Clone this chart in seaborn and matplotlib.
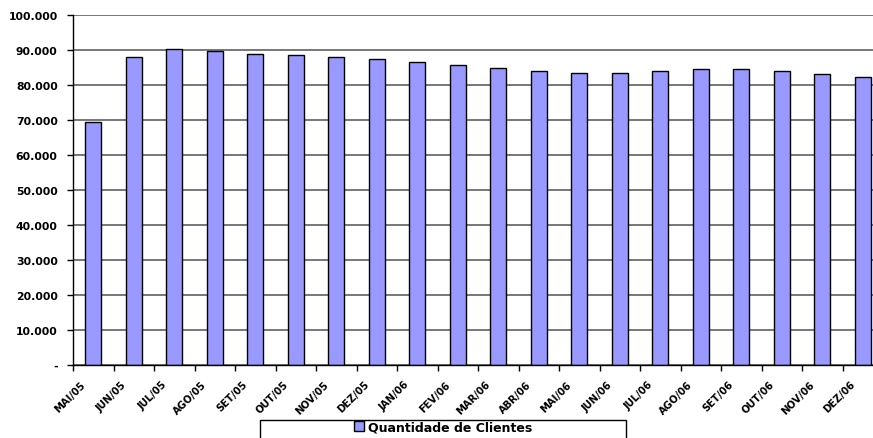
import numpy as np
import pandas as pd
import seaborn as sns
import matplotlib.pyplot as plt
import matplotlib.transforms as mtransforms
from matplotlib.patches import Patch, Rectangle
from matplotlib.ticker import FuncFormatter

meses = ['MAI/05', 'JUN/05', 'JUL/05', 'AGO/05', 'SET/05', 'OUT/05', 'NOV/05', 'DEZ/05',
         'JAN/06', 'FEV/06', 'MAR/06', 'ABR/06', 'MAI/06', 'JUN/06', 'JUL/06', 'AGO/06',
         'SET/06', 'OUT/06', 'NOV/06', 'DEZ/06']
clientes = [69500, 88100, 90200, 89700, 89000, 88600, 88100, 87500,
            86500, 85600, 84800, 83900, 83400, 83500, 83900, 84600,
            84700, 84000, 83200, 82400]
serie = 'Quantidade de Clientes'

df = pd.DataFrame({'mes': meses, 'clientes': clientes})

sns.set_style('white')
plt.rcParams['font.family'] = ['DejaVu Sans']
plt.rcParams['text.color'] = 'black'
plt.rcParams['xtick.labelcolor'] = 'black'
plt.rcParams['ytick.labelcolor'] = 'black'

fig = plt.figure(figsize=(8.73, 4.39), dpi=100)
ax = fig.add_axes([73 / 873, 73 / 439, 810 / 873, 350 / 439])

sns.barplot(data=df, x='mes', y='clientes', color='#9999FF', saturation=1,
            edgecolor='black', linewidth=1, width=0.4, ax=ax)

ax.set_xlim(-0.5, len(meses) - 0.5)
ax.set_ylim(0, 100000)
ax.set_yticks(np.arange(0, 100001, 10000))
ax.yaxis.set_major_formatter(FuncFormatter(
    lambda v, p: '-' if v == 0 else f'{int(v):,}'.replace(',', '.')))
ax.grid(axis='y', color='#606060', linewidth=1.2)
ax.set_axisbelow(True)

for s in ['top', 'right']:
    ax.spines[s].set_visible(False)
for s in ['left', 'bottom']:
    ax.spines[s].set_color('black')
    ax.spines[s].set_linewidth(1)

ax.tick_params(axis='y', left=True, length=4, width=1, color='black',
               labelcolor='black', labelsize=7.8, pad=7)
for lab in ax.get_yticklabels():
    lab.set_fontweight('bold')

ax.set_xticks(np.arange(len(meses)))
ax.set_xticklabels(meses, rotation=45, ha='right', rotation_mode='anchor',
                   fontsize=7.2, fontweight='bold', color='black')
ax.set_xticks(np.arange(len(meses) + 1) - 0.5, minor=True)
ax.tick_params(axis='x', which='major', length=0, pad=10)
ax.tick_params(axis='x', which='minor', bottom=True, length=4, width=1, color='black')
offset = mtransforms.ScaledTranslation(-0.13, 0, fig.dpi_scale_trans)
for lab in ax.get_xticklabels():
    lab.set_transform(lab.get_transform() + offset)

ax.set_xlabel('')
ax.set_ylabel('')

# caixa da legenda
fig.patches.append(Rectangle((260 / 873, -0.01), 366 / 873, 22 / 439,
                             transform=fig.transFigure, facecolor='white',
                             edgecolor='black', linewidth=1))
fig.legend(handles=[Patch(facecolor='#9999FF', edgecolor='black', label=serie)],
           loc='center', bbox_to_anchor=(443 / 873, 1 - 428 / 439),
           frameon=False, prop={'weight': 'bold', 'size': 9},
           labelcolor='black',
           handlelength=0.8, handleheight=0.8, handletextpad=0.3,
           borderpad=0, borderaxespad=0)

fig.savefig('out.png', dpi=100)
